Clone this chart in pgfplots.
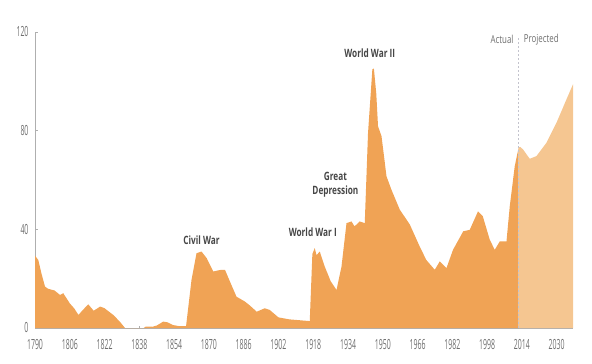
\documentclass[border=0pt]{standalone}
\usepackage{pgfplots}
\pgfplotsset{compat=1.18}
\usepackage{fontspec}
\setmainfont{Open Sans}
\newfontfamily\annfont[FakeStretch=0.72]{Open Sans}
\newfontfamily\tickfont[FakeStretch=0.5]{Open Sans}
\definecolor{actualc}{RGB}{240,163,85}
\definecolor{projc}{RGB}{245,198,145}
\definecolor{axisgray}{RGB}{175,175,175}
\definecolor{dashgray}{RGB}{195,195,205}
\definecolor{ticktext}{RGB}{110,110,110}
\definecolor{anntext}{RGB}{70,70,70}
\begin{document}
\begin{tikzpicture}
\path[use as bounding box] (-35bp,-36bp) rectangle (557bp,328bp);
\begin{axis}[
  at={(0,0)}, anchor=south west,
  scale only axis, width=538bp, height=296bp,
  xmin=1790, xmax=2037.5, ymin=0, ymax=120,
  axis x line=bottom, axis y line=left,
  axis line style={draw=axisgray, line width=0.8bp, -},
  xtick={1790,1806,...,2030}, ytick={0,40,80,120},
  tick align=inside, major tick length=2.5bp,
  tick style={draw=axisgray, line width=0.6bp},
  /pgf/number format/assume math mode=true,
  /pgf/number format/1000 sep={},
  xticklabel style={font=\tickfont\fontsize{14}{14}\selectfont, text=ticktext, yshift=-8bp},
  yticklabel style={font=\tickfont\fontsize{14}{14}\selectfont, text=ticktext, xshift=-3bp},
  clip=false,
]
\addplot[fill=actualc, draw=none] coordinates {
(1790,29.3)(1791.5,27.6)(1793,22)(1794.6,16.8)(1796,15.9)(1799,15.2)(1801.5,13.4)(1803,14.1)
(1806,10)(1808,8)(1810,5.3)(1812,7.3)(1814.5,9.6)(1817,7)(1820,8.7)(1822,8)(1826,5.3)
(1829,2.6)(1831.4,0)(1840,0)(1841,0.6)(1844,0.5)(1846,1)(1849,2.6)(1851,2.3)(1853.5,1.2)
(1856,0.8)(1859.5,0.8)(1862,19.5)(1864.3,30.3)(1866.6,31)(1869,28.3)(1872,22.9)(1875,23.5)
(1877.4,23.6)(1879.7,18.8)(1882.7,12.7)(1886.6,10.7)(1889,9)(1892,6.6)(1895.7,8)(1898,7.3)
(1902,4.3)(1907,3.5)(1916.4,2.8)(1917.6,30)(1918.7,32.4)(1919.5,29.5)(1921,31)(1923.3,24.9)
(1926,19)(1928.7,15.4)(1931,24.9)(1933.3,42.5)(1935.6,43.2)(1937,41.2)(1939.4,43.2)
(1941.7,42.5)(1943.2,79)(1945.2,104.9)(1945.9,105.2)(1947,95)(1947.8,81.8)(1949.4,77.8)(1951.7,61.5)
(1954,56)(1957.8,48)(1962.4,42)(1967,33)(1970,27.6)(1973.9,23.6)(1976.2,27)(1979.3,24.3)
(1982.3,31.7)(1987,39.2)(1990,39.8)(1993.8,47.3)(1996,45.3)(1999.2,35.8)(2001.5,31.7)
(2003.8,35.1)(2006.9,35.1)(2008.4,49.3)(2010.7,65.6)(2012.5,73.2)
} \closedcycle;
\addplot[fill=projc, draw=none] coordinates {
(2012.5,73.2)(2013.2,73.4)(2014.5,72.4)(2017.6,68.6)(2020.7,69.7)(2025.3,75.1)
(2029.9,83.2)(2034.5,92.7)(2037.5,98.8)
} \closedcycle;
\addplot[draw=dashgray, dash pattern=on 2bp off 2bp, line width=0.7bp] coordinates {(2012.5,0)(2012.5,117.5)};
\begin{scope}[every node/.style={inner sep=0pt, text=anntext, font=\annfont\bfseries\fontsize{11.5}{14}\selectfont}]
\node at (axis cs:1866.6,35.6) {Civil War};
\node at (axis cs:1917.8,38.9) {World War I};
\node[align=center] at (axis cs:1928.2,57.9) {Great\\Depression};
\node at (axis cs:1944,111.5) {World War II};
\end{scope}
\node[inner sep=0pt, anchor=east, text=ticktext, font=\annfont\fontsize{11}{11}\selectfont] at (axis cs:2010.2,117) {Actual};
\node[inner sep=0pt, anchor=west, text=ticktext, font=\annfont\fontsize{11}{11}\selectfont] at (axis cs:2014.8,117) {Projected};
\end{axis}
\end{tikzpicture}
\end{document}
